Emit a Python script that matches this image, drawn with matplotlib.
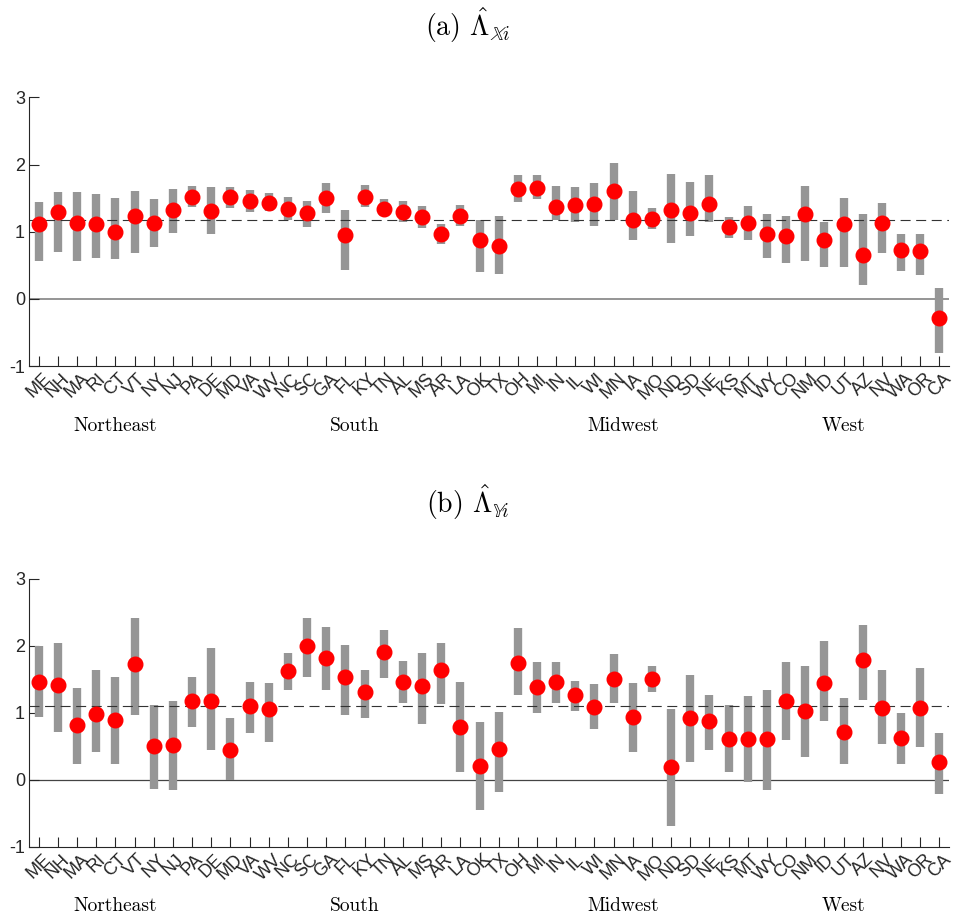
import numpy as np
import matplotlib
matplotlib.use('Agg')
import matplotlib.pyplot as plt

plt.rcParams['mathtext.fontset'] = 'cm'
plt.rcParams['axes.unicode_minus'] = False

states = ['ME', 'NH', 'MA', 'RI', 'CT', 'VT', 'NY', 'NJ', 'PA',
          'DE', 'MD', 'VA', 'WV', 'NC', 'SC', 'GA', 'FL', 'KY', 'TN', 'AL', 'MS', 'AR', 'LA', 'OK', 'TX',
          'OH', 'MI', 'IN', 'IL', 'WI', 'MN', 'IA', 'MO', 'ND', 'SD', 'NE', 'KS',
          'MT', 'WY', 'CO', 'NM', 'ID', 'UT', 'AZ', 'NV', 'WA', 'OR', 'CA']
regions = ['Northeast', 'South', 'Midwest', 'West']
region_sizes = [9, 16, 12, 11]

# panel (a) estimates and interval bounds
est_x = [1.12, 1.29, 1.13, 1.12, 0.99, 1.23, 1.13, 1.33, 1.52,
         1.31, 1.51, 1.46, 1.43, 1.34, 1.28, 1.50, 0.95, 1.52, 1.34, 1.30, 1.22, 0.96, 1.24, 0.88, 0.78,
         1.63, 1.65, 1.37, 1.39, 1.41, 1.61, 1.18, 1.19, 1.33, 1.28, 1.41, 1.07,
         1.13, 0.96, 0.93, 1.26, 0.88, 1.11, 0.66, 1.13, 0.73, 0.71, -0.28]
hi_x = [1.44, 1.59, 1.59, 1.56, 1.50, 1.60, 1.48, 1.64, 1.68,
        1.67, 1.66, 1.62, 1.57, 1.51, 1.46, 1.72, 1.33, 1.69, 1.48, 1.45, 1.38, 1.11, 1.39, 1.17, 1.24,
        1.85, 1.84, 1.68, 1.67, 1.72, 2.02, 1.60, 1.35, 1.86, 1.74, 1.85, 1.22,
        1.38, 1.27, 1.24, 1.68, 1.15, 1.50, 1.26, 1.43, 0.97, 0.97, 0.16]
lo_x = [0.57, 0.70, 0.57, 0.61, 0.59, 0.69, 0.77, 0.98, 1.36,
        0.97, 1.35, 1.30, 1.31, 1.17, 1.07, 1.28, 0.43, 1.36, 1.24, 1.15, 1.05, 0.81, 1.09, 0.40, 0.37,
        1.44, 1.48, 1.17, 1.14, 1.09, 1.17, 0.88, 1.04, 0.83, 0.93, 1.14, 0.91,
        0.88, 0.61, 0.53, 0.57, 0.47, 0.48, 0.20, 0.68, 0.41, 0.35, -0.81]
mean_x = 1.18

# panel (b)
est_y = [1.46, 1.41, 0.81, 0.98, 0.89, 1.72, 0.51, 0.52, 1.18,
         1.17, 0.45, 1.10, 1.05, 1.62, 2.00, 1.82, 1.54, 1.31, 1.91, 1.46, 1.40, 1.63, 0.79, 0.20, 0.46,
         1.74, 1.38, 1.46, 1.26, 1.08, 1.51, 0.94, 1.51, 0.19, 0.92, 0.87, 0.60,
         0.60, 0.60, 1.18, 1.02, 1.45, 0.71, 1.78, 1.07, 0.62, 1.07, 0.27]
hi_y = [1.99, 2.04, 1.37, 1.63, 1.53, 2.41, 1.11, 1.18, 1.53,
        1.96, 0.92, 1.46, 1.45, 1.89, 2.41, 2.28, 2.01, 1.64, 2.24, 1.77, 1.89, 2.04, 1.46, 0.86, 1.01,
        2.26, 1.75, 1.75, 1.48, 1.43, 1.88, 1.45, 1.70, 1.06, 1.56, 1.27, 1.11,
        1.25, 1.34, 1.75, 1.69, 2.07, 1.22, 2.31, 1.63, 1.00, 1.67, 0.69]
lo_y = [0.93, 0.71, 0.24, 0.41, 0.23, 0.96, -0.14, -0.16, 0.78,
        0.45, 0.00, 0.70, 0.56, 1.34, 1.54, 1.34, 0.97, 0.92, 1.52, 1.15, 0.83, 1.13, 0.11, -0.46, -0.19,
        1.26, 1.00, 1.14, 1.03, 0.76, 1.14, 0.41, 1.31, -0.69, 0.26, 0.45, 0.12,
        -0.04, -0.15, 0.59, 0.34, 0.88, 0.24, 1.19, 0.54, 0.24, 0.49, -0.22]
mean_y = 1.10

titles = [r'(a) $\hat{\Lambda}_{\mathbb{X}i}$', r'(b) $\hat{\Lambda}_{\mathbb{Y}i}$']

fig = plt.figure(figsize=(9.56, 9.19), dpi=100)
ax_a = fig.add_axes([0.0306, 0.6017, 0.962, 0.2924])
ax_b = fig.add_axes([0.0306, 0.0787, 0.962, 0.2916])

x = np.arange(1, len(states) + 1)
bounds = np.cumsum([0] + region_sizes)
centers = [x[bounds[k]:bounds[k + 1]].mean() for k in range(len(regions))]

panels = [(ax_a, est_x, lo_x, hi_x, mean_x, '#8c8c8c', 1.3),
          (ax_b, est_y, lo_y, hi_y, mean_y, '#444444', 0.9)]
for ax, est, lo, hi, m, zc, zw in panels:
    ax.axhline(0, color=zc, lw=zw, zorder=1)
    ax.vlines(x, lo, hi, color='#969696', lw=6, zorder=2)
    ax.axhline(m, color='#333333', lw=0.8, ls=(0, (9, 5)), zorder=3)
    ax.plot(x, est, 'o', color='red', ms=10.5, mec='red', zorder=4)
    ax.set_xlim(0.5, 48.5)
    ax.set_ylim(-1, 3)
    ax.set_yticks([-1, 0, 1, 2, 3])
    ax.set_xticks(x)
    ax.set_xticklabels(states, rotation=45, ha='center', fontsize=13,
                       family='Liberation Sans', color='#262626')
    for lab in ax.get_yticklabels():
        lab.set_family('Liberation Sans')
    ax.tick_params(direction='in', length=7, width=0.8, colors='#262626',
                   labelsize=13, pad=3)
    ax.spines['top'].set_visible(False)
    ax.spines['right'].set_visible(False)
    for s in ['left', 'bottom']:
        ax.spines[s].set_color('#262626')
        ax.spines[s].set_linewidth(0.8)
    for name, c in zip(regions, centers):
        ax.text(c, -0.222, name, transform=ax.get_xaxis_transform(),
                ha='center', va='center', fontsize=14, family='cmr10')

fig.text(0.489, 1 - 25 / 919, titles[0], ha='center', va='center', fontsize=20, family='cmr10')
fig.text(0.489, 1 - 502 / 919, titles[1], ha='center', va='center', fontsize=20, family='cmr10')

plt.savefig('out.png', dpi=100)
